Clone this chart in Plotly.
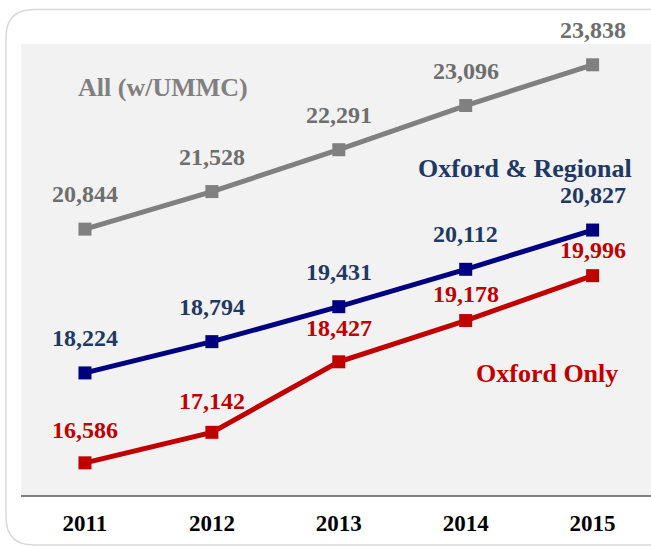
import plotly.graph_objects as go

years = [2011, 2012, 2013, 2014, 2015]
year_labels = ["2011", "2012", "2013", "2014", "2015"]
all_ummc = [20844, 21528, 22291, 23096, 23838]
oxford_regional = [18224, 18794, 19431, 20112, 20827]
oxford_only = [16586, 17142, 18427, 19178, 19996]

series_names = ["All (w/UMMC)", "Oxford & Regional", "Oxford Only"]

GRAY = "#808080"
GRAY_TXT = "#6e6e6e"
NAVY = "#000080"
NAVY_TXT = "#1f3864"
RED = "#c00000"
FONT = "Liberation Serif"

W, H = 651, 546
ml, mr, mt, mb = 21, 0, 44, 51
pw, ph = W - ml - mr, H - mt - mb


def px(x):
    return (x - ml) / pw


def py(y):
    return 1 - (y - mt) / ph


fig = go.Figure()

for vals, col in [(all_ummc, GRAY), (oxford_regional, NAVY), (oxford_only, RED)]:
    fig.add_trace(go.Scatter(
        x=years, y=vals, mode="lines+markers",
        line=dict(color=col, width=5),
        marker=dict(symbol="square", size=13, color=col),
        hoverinfo="skip", showlegend=False,
    ))

annotations = []
red_shift = [33, 31, 34, 27, 26]
for vals, col, shifts in [
    (all_ummc, GRAY_TXT, [35] * 5),
    (oxford_regional, NAVY_TXT, [35] * 5),
    (oxford_only, RED, red_shift),
]:
    for x, v, s in zip(years, vals, shifts):
        annotations.append(dict(
            x=x, y=v, xref="x", yref="y", text=f"<b>{v:,}</b>", showarrow=False,
            yshift=s, font=dict(family=FONT, size=24, color=col),
        ))

# series name labels (pixel positions)
for name, col, (lx, ly) in zip(series_names, [GRAY, NAVY_TXT, RED],
                               [(163, 87), (525, 168), (547, 373)]):
    annotations.append(dict(
        x=px(lx), y=py(ly), xref="paper", yref="paper", text=f"<b>{name}</b>",
        xanchor="center", yanchor="middle",
        showarrow=False, font=dict(family=FONT, size=26, color=col),
    ))

# rounded border around the chart
x0, y0, x1, y1, r = 6, 9.5, 700, 545, 28
path = (
    f"M {px(x0 + r)},{py(y0)} L {px(x1)},{py(y0)} "
    f"M {px(x1)},{py(y1)} L {px(x0 + r)},{py(y1)} "
    f"Q {px(x0)},{py(y1)} {px(x0)},{py(y1 - r)} "
    f"L {px(x0)},{py(y0 + r)} "
    f"Q {px(x0)},{py(y0)} {px(x0 + r)},{py(y0)}"
)

fig.update_layout(
    width=W, height=H,
    margin=dict(l=ml, r=mr, t=mt, b=mb),
    paper_bgcolor="white",
    plot_bgcolor="#f2f2f2",
    annotations=annotations,
    xaxis=dict(
        range=[2011 - 0.504, 2015 + 0.46],
        tickvals=years, ticktext=[f"<b>{t}</b>" for t in year_labels],
        showgrid=False, zeroline=False,
        showline=True, linecolor="#808080", linewidth=2,
        ticks="", ticklabelstandoff=6,
        tickfont=dict(family=FONT, size=23, color="black"),
    ),
    yaxis=dict(range=[16000, 24217], visible=False, showgrid=False, zeroline=False),
    shapes=[dict(type="path", xref="paper", yref="paper", path=path,
                 line=dict(color="#d9d9d9", width=1.5), layer="below")],
)

fig.write_html("out.html", config={"displayModeBar": False},
               post_script="document.body.style.margin='0';document.body.style.padding='0';")
